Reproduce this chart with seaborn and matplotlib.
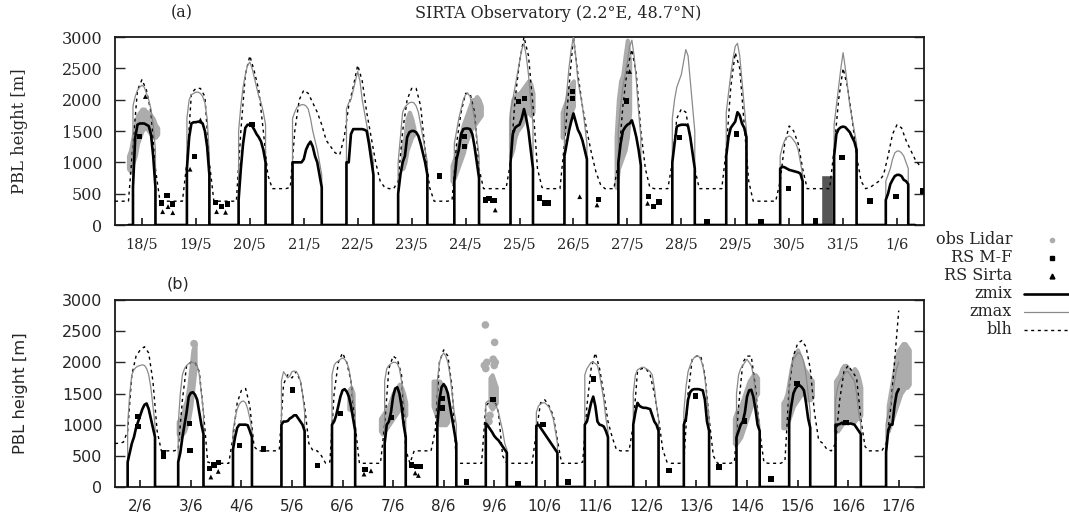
import numpy as np
import matplotlib
matplotlib.use('Agg')
import matplotlib.pyplot as plt
import seaborn as sns
from matplotlib.lines import Line2D

# ---------------------------------------------------------------- data
DAYS_A = ['18/5', '19/5', '20/5', '21/5', '22/5', '23/5', '24/5', '25/5',
          '26/5', '27/5', '28/5', '29/5', '30/5', '31/5', '1/6']
DAYS_B = ['2/6', '3/6', '4/6', '5/6', '6/6', '7/6', '8/6', '9/6', '10/6',
          '11/6', '12/6', '13/6', '14/6', '15/6', '16/6', '17/6']

# daytime hours (UTC) of zmix / zmax values, 0 = no mixed layer
DAY_HOURS = [6, 7, 8, 9, 10, 11, 12, 13, 14, 15, 16, 17, 18, 19, 20]
# hours of blh values
BLH_HOURS = [0, 2, 4, 6, 8, 10, 12, 14, 16, 18, 20, 22]

nan = np.nan

ZMIX_A = [
    [0, 0, 600, 1400, 1600, 1620, 1620, 1620, 1600, 1580, 1450, 1100, 600, 0, 0],
    [0, 0, 900, 1400, 1620, 1640, 1640, 1650, 1640, 1620, 1500, 1250, 800, 0, 0],
    [0, 400, 900, 1300, 1550, 1600, 1600, 1580, 1520, 1450, 1400, 1330, 1200, 1000, 0],
    [0, 1000, 1000, 1000, 1000, 1000, 1050, 1200, 1280, 1330, 1250, 1100, 1000, 800, 600],
    [0, 1000, 1000, 1450, 1530, 1530, 1530, 1530, 1530, 1520, 1500, 1300, 1050, 800, 0],
    [500, 800, 1000, 1100, 1400, 1480, 1500, 1500, 1480, 1420, 1300, 1150, 1000, 800, 0],
    [0, 700, 1050, 1200, 1450, 1530, 1540, 1540, 1530, 1450, 1250, 1000, 750, 0, 0],
    [0, 0, 1000, 1450, 1550, 1580, 1600, 1700, 1850, 1700, 1500, 1200, 900, 0, 0],
    [0, 0, 1100, 1300, 1500, 1650, 1780, 1650, 1520, 1450, 1350, 1200, 1050, 0, 0],
    [0, 0, 1000, 1300, 1500, 1560, 1600, 1620, 1670, 1550, 1400, 1200, 950, 0, 0],
    [0, 0, 1000, 1300, 1570, 1590, 1600, 1600, 1600, 1580, 1400, 1150, 900, 0, 0],
    [0, 0, 1100, 1400, 1550, 1600, 1650, 1800, 1750, 1620, 1550, 1400, 0, 0, 0],
    [0, 0, 900, 930, 920, 900, 880, 870, 860, 850, 840, 820, 700, 0, 0],
    [0, 0, 1100, 1450, 1530, 1560, 1570, 1560, 1520, 1480, 1400, 1330, 1200, 0, 0],
    [0, 400, 500, 650, 720, 780, 800, 800, 780, 720, 700, 650, 0, 0, 0],
]
ZMAX_A = [
    [0, 0, 1900, 2050, 2150, 2200, 2230, 2200, 2100, 2000, 1850, 1600, 1200, 0, 0],
    [0, 0, 1700, 2000, 2080, 2100, 2120, 2120, 2100, 2050, 1950, 1700, 1100, 0, 0],
    [0, 1500, 1900, 2200, 2400, 2550, 2600, 2500, 2350, 2200, 2050, 1950, 1800, 1600, 0],
    [0, 1700, 1800, 1880, 1900, 1920, 1920, 1900, 1850, 1700, 1500, 1350, 1200, 1000, 800],
    [0, 1850, 1950, 2000, 2150, 2300, 2450, 2300, 2000, 1800, 1600, 1400, 1200, 1000, 0],
    [1000, 1400, 1800, 1880, 1920, 1950, 1960, 1950, 1900, 1800, 1600, 1400, 1200, 1000, 0],
    [0, 1300, 1500, 1700, 1850, 2000, 2080, 2100, 2050, 1900, 1700, 1400, 1100, 0, 0],
    [0, 0, 1800, 2000, 2200, 2400, 2600, 2800, 2900, 2700, 2400, 2000, 1600, 0, 0],
    [0, 0, 1800, 2100, 2500, 2800, 3000, 2700, 2300, 2100, 1900, 1600, 1300, 0, 0],
    [0, 0, 1500, 1900, 2200, 2400, 2600, 2850, 2950, 2700, 2300, 1800, 1400, 0, 0],
    [0, 0, 1700, 2000, 2200, 2300, 2400, 2600, 2800, 2700, 2300, 1900, 1500, 0, 0],
    [0, 0, 1800, 2100, 2400, 2650, 2850, 2900, 2700, 2300, 1900, 1500, 0, 0, 0],
    [0, 0, 1100, 1250, 1350, 1400, 1420, 1400, 1350, 1300, 1200, 1000, 800, 0, 0],
    [0, 0, 1600, 1900, 2200, 2500, 2750, 2500, 2200, 1900, 1700, 1500, 1300, 0, 0],
    [0, 700, 800, 900, 1050, 1150, 1180, 1180, 1150, 1100, 1000, 900, 0, 0, 0],
]
BLH_A = [
    [380, 380, 380, 380, 1300, 2150, 2320, 2150, 1800, 900, 380, 380],
    [380, 380, 380, 380, 1000, 2100, 2180, 2180, 2050, 1000, 380, 380],
    [380, 380, 380, 380, 1500, 2400, 2700, 2450, 2150, 1500, 800, 580],
    [580, 580, 580, 600, 1500, 2000, 2150, 2100, 1950, 1800, 1600, 1350],
    [1250, 1150, 1120, 1400, 1900, 2200, 2550, 2300, 1800, 1400, 1000, 700],
    [600, 580, 580, 700, 1500, 2000, 2180, 2180, 1900, 1200, 600, 380],
    [380, 380, 380, 400, 1300, 1800, 2100, 2100, 1800, 900, 580, 580],
    [580, 580, 580, 580, 1000, 2000, 2600, 3000, 2700, 1900, 900, 600],
    [580, 580, 580, 580, 1300, 2200, 3000, 2400, 1900, 1500, 1150, 850],
    [650, 580, 580, 580, 1000, 1900, 2500, 2800, 2400, 1500, 900, 600],
    [580, 580, 580, 580, 1000, 1700, 1850, 1800, 1400, 900, 580, 580],
    [580, 580, 580, 580, 1200, 2200, 2750, 2500, 1600, 700, 380, 380],
    [380, 380, 380, 380, 700, 1300, 1580, 1500, 1300, 900, 580, 580],
    [580, 580, 580, 580, 1200, 2000, 2500, 2200, 1700, 1100, 700, 580],
    [600, 650, 700, 800, 1100, 1450, 1600, 1550, 1350, 1200, 1050, 950],
]

ZMIX_B = [
    [400, 550, 700, 800, 950, 1050, 1150, 1250, 1320, 1340, 1250, 1100, 950, 800, 0],
    [400, 550, 800, 1000, 1200, 1450, 1510, 1520, 1480, 1400, 1200, 1000, 850, 0, 0],
    [0, 0, 600, 800, 950, 1000, 1000, 1000, 1000, 990, 900, 800, 0, 0, 0],
    [0, 1000, 1050, 1050, 1060, 1100, 1120, 1150, 1150, 1100, 1050, 1000, 900, 0, 0],
    [0, 1000, 1050, 1150, 1300, 1450, 1550, 1570, 1530, 1450, 1300, 1100, 900, 0, 0],
    [0, 0, 700, 1000, 1050, 1200, 1450, 1580, 1600, 1500, 1300, 1000, 800, 0, 0],
    [0, 0, 0, 1000, 1400, 1600, 1650, 1600, 1500, 1300, 1100, 900, 700, 0, 0],
    [0, 0, 1020, 980, 930, 880, 820, 780, 750, 700, 650, 600, 550, 0, 0],
    [0, 0, 980, 1000, 950, 900, 850, 800, 750, 700, 650, 600, 550, 0, 0],
    [0, 1000, 1050, 1200, 1350, 1450, 1300, 1050, 1000, 990, 970, 900, 800, 0, 0],
    [1000, 1200, 1350, 1300, 1280, 1270, 1270, 1260, 1250, 1150, 1050, 1000, 900, 0, 0],
    [1000, 1100, 1400, 1520, 1560, 1570, 1570, 1570, 1560, 1550, 1400, 1050, 900, 0, 0],
    [0, 800, 900, 1000, 1050, 1200, 1450, 1550, 1560, 1450, 1250, 1000, 900, 0, 0],
    [0, 0, 1050, 1300, 1500, 1580, 1620, 1630, 1600, 1550, 1350, 1100, 950, 0, 0],
    [1000, 1000, 1010, 1030, 1030, 1020, 1010, 1020, 1010, 1000, 950, 900, 850, 0, 0],
    [560, 900, 1000, 1000, 1300, 1500, 1570, nan, nan, nan, nan, nan, nan, nan, nan],
]
ZMAX_B = [
    [1000, 1500, 1800, 1880, 1920, 1940, 1950, 1960, 1950, 1900, 1800, 1600, 1300, 1000, 0],
    [1000, 1500, 1800, 1900, 1950, 1980, 2000, 2000, 1980, 1950, 1800, 1500, 1200, 0, 0],
    [0, 0, 900, 1100, 1250, 1330, 1370, 1380, 1350, 1250, 1100, 900, 0, 0, 0],
    [0, 1700, 1850, 1800, 1750, 1780, 1850, 1860, 1850, 1800, 1700, 1500, 1200, 0, 0],
    [0, 1800, 1950, 2000, 2020, 2050, 2070, 2050, 2000, 1900, 1700, 1400, 1200, 0, 0],
    [0, 0, 1700, 1900, 1950, 1980, 2000, 2000, 1980, 1900, 1700, 1400, 1100, 0, 0],
    [0, 0, 0, 1700, 2000, 2100, 2150, 2100, 2000, 1800, 1500, 1200, 1000, 0, 0],
    [0, 0, 1350, 1380, 1380, 1370, 1350, 1300, 1200, 1050, 900, 700, 600, 0, 0],
    [0, 0, 1200, 1300, 1330, 1350, 1350, 1320, 1280, 1200, 1100, 900, 700, 0, 0],
    [0, 1800, 1900, 1950, 2000, 2000, 1980, 1950, 1800, 1600, 1400, 1100, 900, 0, 0],
    [1500, 1800, 1880, 1900, 1920, 1920, 1900, 1880, 1850, 1800, 1600, 1300, 1100, 0, 0],
    [1200, 1600, 1850, 1950, 2030, 2080, 2100, 2100, 2050, 1950, 1750, 1400, 1100, 0, 0],
    [0, 1500, 1800, 1900, 1950, 2000, 2050, 2000, 1950, 1800, 1500, 1200, 1000, 0, 0],
    [0, 0, 1700, 1900, 2050, 2100, 2150, 2150, 2100, 2000, 1800, 1500, 1200, 0, 0],
    [1400, 1600, 1700, 1750, 1800, 1850, 1850, 1800, 1750, 1700, 1500, 1200, 1000, 0, 0],
    [1000, 1200, 1300, 1500, 1700, 1900, 2000, nan, nan, nan, nan, nan, nan, nan, nan],
]
BLH_B = [
    [700, 700, 720, 900, 1800, 2100, 2200, 2250, 2150, 1700, 900, 580],
    [580, 580, 580, 600, 1400, 1950, 2000, 2000, 1850, 1200, 400, 380],
    [380, 380, 380, 380, 800, 1350, 1550, 1580, 1300, 650, 580, 580],
    [580, 580, 580, 600, 1650, 1800, 1750, 1850, 1700, 1300, 700, 580],
    [580, 500, 380, 400, 1500, 2000, 2150, 2000, 1700, 1000, 380, 380],
    [380, 380, 380, 380, 1000, 1900, 2100, 2050, 1800, 600, 380, 580],
    [580, 580, 580, 580, 900, 2000, 2200, 2100, 1600, 400, 380, 380],
    [380, 380, 380, 380, 1300, 1380, 1400, 1200, 500, 380, 380, 380],
    [380, 380, 380, 380, 900, 1350, 1400, 1300, 1150, 750, 380, 380],
    [380, 380, 380, 400, 1300, 1900, 2150, 1900, 1500, 1050, 800, 600],
    [580, 580, 580, 1000, 1850, 1900, 1900, 1800, 1500, 1100, 600, 400],
    [380, 380, 380, 400, 1500, 2050, 2100, 2100, 1800, 1100, 500, 380],
    [380, 380, 380, 400, 1300, 2000, 2100, 2100, 1600, 900, 400, 380],
    [380, 380, 380, 420, 1600, 2100, 2300, 2350, 2250, 1900, 1200, 750],
    [700, 600, 580, 700, 1400, 1850, 1950, 1850, 1750, 1100, 650, 580],
    [580, 580, 580, 700, 1200, 2000, 2830, nan, nan, nan, nan, nan],
]

# lidar retrievals: day index, first hour, hourly lower / upper edge of the cloud of points
LIDAR_A_DAY = [0, 5, 6, 7, 8, 9]
LIDAR_A_H0 = [6, 8, 6, 8, 7, 7]
LIDAR_A_LO = [
    [900, 850, 1000, 1100, 1300, 1400, 1500, 1550, 1550, 1500, 1450, 1400, 1400, 1450],
    [900, 1000, 1200, 1300, 1400, 1450],
    [700, 750, 850, 950, 1050, 1150, 1300, 1400, 1500, 1550, 1600, 1650, 1700, 1750],
    [1100, 1200, 1400, 1500, 1550, 1600, 1700, 1800, 1800, 1750, 1800],
    [1400, 1500, 1600, 1700, 1800, 1900],
    [600, 900, 1000, 1100, 1200, 1400, 1800],
]
LIDAR_A_HI = [
    [1100, 1200, 1400, 1600, 1750, 1800, 1850, 1850, 1800, 1800, 1750, 1700, 1600, 1550],
    [1250, 1400, 1700, 1800, 1700, 1550],
    [950, 1050, 1150, 1300, 1450, 1600, 1700, 1800, 1900, 2000, 2000, 2050, 2000, 1900],
    [1700, 2000, 2050, 2100, 2100, 2150, 2200, 2250, 2300, 2250, 2100],
    [1800, 1900, 2000, 2150, 2250, 2300],
    [1400, 2000, 2300, 2400, 2700, 2950, 2600],
]
LIDAR_B_DAY = [1, 4, 5, 6, 7, 12, 13, 14, 15]
LIDAR_B_H0 = [6, 15, 6, 7, 10, 6, 5, 6, 7]
LIDAR_B_LO = [
    [850, 800, 850, 900, 1000, 1100, 1300, 1600, 1900],
    [1250, 1250, 1200],
    [900, 850, 900, 950, 1000, 1050, 1100, 1150, 1200, 1250, 1250, 1200, 1150],
    [1300, 1200, 1100, 1000, 1000, 1000, 1000, 1050],
    [1300, 1250, 1300, 1350],
    [700, 700, 750, 800, 900, 1000, 1100, 1200, 1300, 1400, 1450, 1500],
    [950, 950, 1000, 1100, 1200, 1300, 1350, 1400, 1450, 1500, 1500, 1450, 1400, 1400, 1450],
    [900, 900, 950, 1000, 1050, 1050, 1100, 1100, 1050, 1050, 1100, 1100, 1150],
    [900, 1000, 1100, 1200, 1300, 1400, 1500, 1550, 1600, 1600, 1650],
]
LIDAR_B_HI = [
    [1050, 1100, 1150, 1300, 1400, 1600, 1900, 2200, 2300],
    [1550, 1600, 1500],
    [1100, 1150, 1200, 1250, 1300, 1400, 1500, 1550, 1600, 1650, 1600, 1500, 1350],
    [1700, 1700, 1700, 1700, 1650, 1600, 1500, 1350],
    [1750, 1800, 1700, 1600],
    [1100, 1200, 1250, 1300, 1400, 1500, 1600, 1700, 1750, 1800, 1800, 1750],
    [1350, 1400, 1500, 1700, 1900, 2050, 2150, 2200, 2100, 2000, 1900, 1850, 1800, 1750, 1700],
    [1700, 1750, 1800, 1900, 1950, 1950, 1900, 1850, 1850, 1900, 1850, 1750, 1600],
    [1300, 1500, 1700, 1900, 2100, 2200, 2250, 2300, 2300, 2250, 2200],
]
# isolated lidar points (hours since start of panel b)
LIDAR_B_DOT_T = [37.5, 175.8, 180.2, 175.3, 176.0, 176.5, 179.5, 180.0, 180.5, 177.5, 178.0]
LIDAR_B_DOT_Z = [2300, 2600, 2320, 1950, 1900, 2000, 2050, 1950, 2000, 1050, 1150]

# radiosondes (hours since start of each panel)
RSMF_A_T = [11, 20.8, 23.1, 25.7, 35.3, 44.8, 47.5, 50, 60.9, 144.4, 155.6, 155.6,
            165, 166.5, 168, 169, 179.6, 182.3, 189, 191, 192.9, 203.6, 203.6,
            215.2, 227.5, 237.5, 239.7, 242, 251.3, 263.4, 276.5, 287.5, 299.6,
            311.7, 323.5, 335.9, 347.5, 359.5]
RSMF_A_Z = [1410, 350, 470, 335, 1090, 356, 293, 335, 1600, 780, 1410, 1250,
            400, 420, 390, 390, 1970, 2020, 430, 350, 350, 2130, 2020,
            410, 1980, 450, 300, 370, 1400, 53, 1450, 53, 585,
            64, 1080, 383, 450, 540]
RSSI_A_T = [13.5, 21.2, 23.6, 25.7, 33.4, 38, 45.2, 49.2, 169.2, 206.8, 214.5, 237, 229]
RSSI_A_Z = [2050, 213, 293, 197, 890, 1675, 213, 202, 240, 452, 320, 346, 2450]

RSMF_B_T = [11, 11, 22.9, 22.9, 35.3, 35.6, 45, 47, 49, 59.2, 70.6, 84.3, 96.2,
            107, 118.6, 131.2, 140.7, 143, 145, 155.4, 155.4, 166.8, 179.5,
            191.3, 203.2, 215, 227.2, 262.9, 275.6, 286.7, 298.8, 311.4, 323.7, 347]
RSMF_B_Z = [1130, 970, 490, 553, 1020, 585, 300, 350, 390, 665, 612, 1555, 346,
            1180, 277, 1110, 350, 330, 330, 1420, 1270, 80, 1405,
            53, 1005, 80, 1730, 260, 1460, 320, 1060, 128, 1660, 1030]
RSSI_B_T = [45.5, 49, 118.2, 121.5, 142.5, 144, 346]
RSSI_B_Z = [160, 250, 207, 260, 225, 185, 1030]

# dark block in the night 30/5 - 31/5
BLOCK_A_START = 314.3
BLOCK_A_END = 319.4
BLOCK_A_TOP = 790

# ---------------------------------------------------------------- style
sns.set_style('ticks')
plt.rcParams['font.family'] = ['DejaVu Serif']
plt.rcParams['axes.linewidth'] = 1.3

W, H = 1069, 519
LIDAR_COLOR = '#acacac'


def day_series(rows, hours):
    t = [24 * d + h for d in range(len(rows)) for h in hours]
    v = [x for row in rows for x in row]
    return t, v


def ground_steps(t, v):
    # mixing heights drop vertically to the ground at sunrise / sunset
    xs, ys = [], []
    prev = 0
    for ti, vi in zip(t, v):
        if prev == 0 and vi > 0:
            xs.append(ti)
            ys.append(0)
        if prev > 0 and vi == 0:
            xs.append(xs[-1])
            ys.append(0)
        xs.append(ti)
        ys.append(vi)
        prev = vi
    return xs, ys


def draw_panel(ax, days, blh, zmix, zmax, l_day, l_h0, l_lo, l_hi,
               mf_t, mf_z, si_t, si_z, family, xsize, ysize):
    for d, h0, lo, hi in zip(l_day, l_h0, l_lo, l_hi):
        t = 24 * d + h0 + np.arange(len(lo))
        ax.fill_between(t, lo, hi, color=LIDAR_COLOR, lw=3,
                        edgecolor=LIDAR_COLOR, joinstyle='round', zorder=1)

    t, v = day_series(blh, BLH_HOURS)
    ax.plot(t, v, color='black', lw=1.0, dashes=(2.2, 2.6), zorder=3)

    t, v = day_series(zmax, DAY_HOURS)
    xs, ys = ground_steps(t, v)
    ax.plot(xs, ys, color='#8a8a8a', lw=0.9, zorder=3)

    t, v = day_series(zmix, DAY_HOURS)
    xs, ys = ground_steps(t, v)
    ax.plot(xs, ys, color='black', lw=1.9, zorder=4)

    sns.scatterplot(x=mf_t, y=mf_z, ax=ax, marker='s', s=15, color='black',
                    edgecolor='none', zorder=5)
    sns.scatterplot(x=si_t, y=si_z, ax=ax, marker='^', s=12, color='black',
                    edgecolor='none', zorder=5)

    n = len(days)
    ax.set_xlim(0, 24 * n)
    ax.set_ylim(0, 3000)
    ax.set_xticks([12 + 24 * k for k in range(n)])
    ax.set_xticklabels(days)
    ax.set_yticks(range(0, 3001, 500))
    ax.tick_params(axis='x', direction='in', length=5, width=1.3, pad=9,
                   top=False, labelsize=xsize, labelfontfamily=family)
    ax.tick_params(axis='y', direction='in', length=7, width=1.0, pad=9,
                   left=True, right=True, labelsize=ysize, labelfontfamily=family)
    for sp in ax.spines.values():
        sp.set_visible(True)
        sp.set_color('#1a1a1a')
    ax.set_xlabel('')
    ax.set_ylabel('PBL height [m]', family=family, fontsize=ysize + 0.3)
    ax.yaxis.set_label_coords(-0.108, 0.5)


fig = plt.figure(figsize=(W / 100, H / 100), dpi=100)
axA = fig.add_axes([115 / W, 1 - 225 / H, 809 / W, 188 / H])
axB = fig.add_axes([115 / W, 1 - 487 / H, 809 / W, 187 / H])

draw_panel(axA, DAYS_A, BLH_A, ZMIX_A, ZMAX_A, LIDAR_A_DAY, LIDAR_A_H0,
           LIDAR_A_LO, LIDAR_A_HI, RSMF_A_T, RSMF_A_Z, RSSI_A_T, RSSI_A_Z,
           'DejaVu Serif', 10.5, 11.5)
axA.bar(BLOCK_A_START, BLOCK_A_TOP, width=BLOCK_A_END - BLOCK_A_START,
        align='edge', color='#555555', zorder=2)

draw_panel(axB, DAYS_B, BLH_B, ZMIX_B, ZMAX_B, LIDAR_B_DAY, LIDAR_B_H0,
           LIDAR_B_LO, LIDAR_B_HI, RSMF_B_T, RSMF_B_Z, RSSI_B_T, RSSI_B_Z,
           'DejaVu Sans', 11, 11.5)
sns.scatterplot(x=LIDAR_B_DOT_T, y=LIDAR_B_DOT_Z, ax=axB, color=LIDAR_COLOR,
                s=30, edgecolor='none', zorder=1)

fig.text(182 / W, 1 - 13 / H, '(a)', ha='center', va='center', fontsize=11.5)
fig.text(558 / W, 1 - 13 / H, 'SIRTA Observatory (2.2°E, 48.7°N)',
         ha='center', va='center', fontsize=11.5)
fig.text(178 / W, 1 - 284 / H, '(b)', ha='center', va='center', fontsize=11.5,
         family='DejaVu Sans')

# key, gnuplot style: right aligned text with sample on the right
key_rows = [240, 258, 276, 294, 312, 330]
key_text = ['obs Lidar', 'RS M-F', 'RS Sirta', 'zmix', 'zmax', 'blh']
for y, lab in zip(key_rows, key_text):
    fig.text(1012 / W, 1 - y / H, lab, ha='right', va='center', fontsize=11.5)
yk = [1 - y / H for y in key_rows]
fig.add_artist(Line2D([1052 / W], [yk[0]], marker='o', ms=3, color=LIDAR_COLOR, lw=0))
fig.add_artist(Line2D([1052 / W], [yk[1]], marker='s', ms=3.5, color='black', lw=0))
fig.add_artist(Line2D([1052 / W], [yk[2]], marker='^', ms=3.5, color='black', lw=0))
fig.add_artist(Line2D([1024 / W, 1.0], [yk[3], yk[3]], color='black', lw=1.9))
fig.add_artist(Line2D([1024 / W, 1.0], [yk[4], yk[4]], color='#8a8a8a', lw=0.9))
fig.add_artist(Line2D([1024 / W, 1.0], [yk[5], yk[5]], color='black', lw=1.0,
                      dashes=(2.2, 2.6)))

fig.savefig('out.png', dpi=100)
